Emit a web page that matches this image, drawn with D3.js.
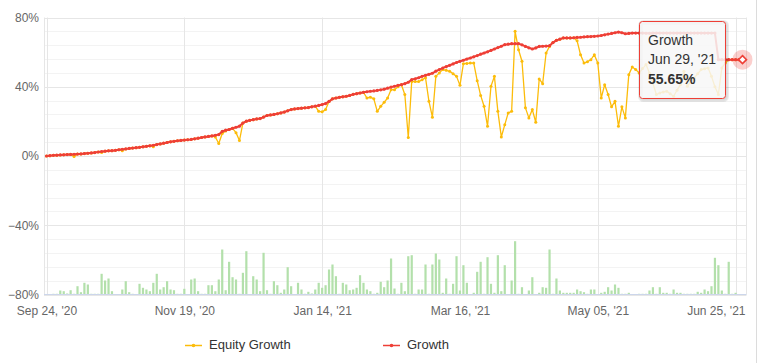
<!DOCTYPE html>
<html>
<head>
<meta charset="utf-8">
<script src="https://cdn.jsdelivr.net/npm/d3@7"></script>
<style>
  body { margin: 0; background: #fff; }
  svg { display: block; font-family: "Liberation Sans", Arial, sans-serif; }
</style>
</head>
<body>
<svg id="chart" width="759" height="363"></svg>
<script>
// growth (%) per trading day, Sep 24 '20 .. Jun 29 '21
const growth = [
  0, 0.2, 0.4, 0.5, 0.6, 0.7, 0.8, 0.9, 1.0, 1.1,
  1.2, 1.4, 1.6, 1.8, 2.0, 2.3, 2.6, 2.8, 3.0, 3.1,
  3.3, 3.6, 3.9, 4.1, 4.4, 4.6, 4.8, 5.0, 5.3, 5.6,
  5.9, 6.2, 6.6, 7.0, 7.4, 7.8, 8.2, 8.5, 8.8, 9.0,
  9.2, 9.4, 9.6, 9.9, 10.3, 10.7, 11.0, 11.3, 11.6, 12.0,
  12.4, 14.2, 14.9, 15.3, 16.0, 16.6, 17.2, 19.0, 20.1, 20.6,
  21.0, 21.4, 21.6, 22.5, 23.4, 23.7, 24.0, 24.4, 24.9, 25.4,
  26.1, 26.8, 27.2, 27.4, 27.6, 27.8, 28.0, 28.4, 28.8, 29.2,
  29.7, 30.3, 31.5, 33.0, 33.5, 33.9, 34.2, 34.5, 35.0, 35.6,
  36.0, 36.4, 36.8, 37.1, 37.4, 37.6, 37.9, 38.2, 38.6, 39.2,
  39.8, 40.3, 40.8, 41.2, 41.8, 42.6, 44.1, 44.6, 45.2, 46.0,
  46.6, 47.2, 47.8, 49.0, 49.9, 50.8, 51.6, 52.4, 53.2, 54.0,
  54.7, 55.3, 56.0, 56.6, 57.3, 58.0, 58.8, 59.5, 60.2, 61.0,
  61.8, 62.6, 63.4, 64.3, 64.6, 64.9, 64.9, 64.9, 64.2, 63.3,
  62.5, 61.8, 62.4, 63.3, 63.4, 63.5, 63.7, 65.5, 66.8, 67.5,
  68.2, 68.2, 68.2, 68.3, 68.5, 68.6, 68.8, 68.9, 69.0, 69.1,
  69.3, 69.6, 70.0, 70.4, 70.8, 71.2, 71.6, 71.2, 70.6, 70.8,
  71.0, 71.0, 71.0, 71.0, 70.9, 70.9, 71.0, 71.0, 71.0, 71.0,
  71.0, 71.0, 71.0, 71.0, 71.0, 71.0, 71.0, 71.0, 71.0, 71.0,
  71.0, 71.0, 71.0, 71.0, 71.0, 55.65, 55.65, 55.65, 55.65, 55.65,
  55.65, 55.65, 55.65
];

// equity growth (%) per trading day
const equity = [
  0, 0.2, 0.4, 0.5, 0.6, 0.7, 0.8, 0.9, -0.3, 1.1,
  1.2, 1.4, 1.6, 1.8, 2.0, 2.3, 2.0, 2.8, 3.0, 3.1,
  3.3, 3.6, 3.0, 4.1, 4.4, 4.6, 4.8, 5.0, 5.3, 5.6,
  5.9, 5.3, 6.6, 7.0, 7.4, 7.8, 8.2, 8.5, 8.8, 9.0,
  9.2, 9.4, 9.6, 9.9, 10.3, 10.7, 11.0, 11.3, 11.6, 11.0,
  7.2, 13.0, 14.5, 15.3, 16.0, 13.5, 8.9, 19.0, 20.1, 20.6,
  21.0, 21.4, 21.6, 22.5, 23.4, 23.7, 24.0, 24.4, 24.9, 25.4,
  26.1, 26.8, 27.2, 27.4, 27.6, 27.8, 28.0, 28.4, 28.8, 25.8,
  25.5, 26.8, 31.5, 33.0, 33.5, 33.9, 34.2, 34.5, 35.0, 35.6,
  36.0, 36.4, 36.8, 33.5, 34.0, 33.0, 25.8, 28.7, 31.0, 33.5,
  38.3, 38.3, 40.0, 41.2, 35.5, 10.7, 43.1, 43.0, 43.0, 44.0,
  45.2, 31.6, 22.4, 46.0, 48.0, 49.9, 49.5, 48.9, 47.5, 46.0,
  40.8, 53.3, 53.5, 53.7, 53.7, 43.5, 35.0, 28.7, 17.2, 40.3,
  46.0, 25.8, 11.0, 18.0, 24.9, 25.8, 72.0, 61.4, 54.7, 27.8,
  22.0, 26.8, 19.5, 44.5, 41.8, 59.5, 63.3, 65.6, 66.8, 67.5,
  68.2, 68.2, 68.2, 68.3, 66.5, 58.5, 53.7, 54.5, 55.6, 58.5,
  53.7, 33.5, 41.2, 35.5, 28.4, 31.6, 17.2, 28.4, 22.0, 47.0,
  51.4, 50.0, 48.0, 50.5, 52.8, 48.0, 42.0, 35.5, 36.4, 37.0,
  37.4, 36.0, 34.5, 38.0, 41.2, 48.9, 40.3, 43.0, 45.1, 47.5,
  49.9, 50.4, 50.9, 46.0, 40.0, 35.5, 50.9, 53.7, 55.65, 55.65,
  55.65, 55.65, 55.65
];

// daily volume columns (hidden axis)
const volume = [
  0, 0, 0.7, 0.7, 4, 3.3, 1, 4.3, 0.7, 8.3,
  2.3, 11.7, 10, 0.7, 0.7, 0.7, 20.7, 14, 16, 3.3,
  0, 0, 5, 13.3, 2.3, 0.7, 0, 10.7, 6.7, 5,
  3.3, 11.7, 20.7, 5, 7.3, 13.3, 5, 4.3, 0.7, 0.7,
  5.7, 0, 15, 16, 3.3, 0.7, 0.7, 9.3, 9.3, 3.3,
  15, 45, 4.3, 32.7, 17.3, 15, 0.7, 21.7, 43.3, 0,
  18.3, 15, 3.3, 41.7, 4.3, 0.7, 13.3, 9.3, 1.7, 5,
  27.3, 8.3, 0, 11.7, 5, 0.7, 2.7, 1, 5, 11.7,
  6.7, 9.3, 25, 30, 18.3, 0.7, 11.7, 10, 4.3, 5,
  6.7, 19.3, 11.7, 5, 3.3, 0.7, 1.7, 12.7,
  7.3, 14, 36, 6, 0.7, 11.7, 3.3, 38.3, 39.3, 0.7,
  5, 5, 30, 0.7, 30, 41, 35, 1.7, 16, 0.7,
  10.7, 38.3, 4, 29.3, 11.7, 0, 1.7, 22.7, 32.7, 0.7,
  37.3, 10.7, 1.7, 39.3, 3.3, 29.3, 0, 14, 53.3, 0.7,
  7.3, 0, 4, 17.3, 0, 1.7, 7.3, 6.7, 45, 0.7,
  16, 4, 1.7, 1.7, 1.7, 1.7, 5, 3.3, 2.3, 0.7,
  5, 5, 0, 1.7, 2.7, 7.3, 4, 10, 6.7, 0.7,
  0.7, 1.7, 0, 0, 0.7, 0.7, 0.7, 4, 7.3, 0.7,
  7.3, 1.7, 1.7, 0.7, 5, 1.7, 1.7, 0.7, 0.7, 0.7,
  0.7, 2.7, 1.7, 5, 3.3, 8.3, 36.7, 29.3, 4, 0.7,
  32.7, 0.7, 1.7, 0, 0
];

const tickIndex = [0, 40, 80, 120, 160, 200];
const tickLabels = ["Sep 24, '20", "Nov 19, '20", "Jan 14, '21", "Mar 16, '21", "May 05, '21", "Jun 25, '21"];
const yTicks = [-80, -40, 0, 40, 80];
const seriesNames = ["Equity Growth", "Growth"];
const seriesColors = ["#fcbc0a", "#ee3f36"];
const hoverDate = "Jun 29, '21";

const W = 759, H = 363;
const plotLeft = 44, plotRight = 746.5, plotTop = 17.5, plotBottom = 294.5;

const svg = d3.select("#chart");

const x = d3.scaleLinear().domain([0, growth.length - 1]).range([46.5, 742.5]);
const y = d3.scaleLinear().domain([-80, 80]).range([plotBottom, plotTop]);
const yVol = d3.scaleLinear().domain([0, 60]).range([plotBottom, plotBottom - 60]);

// grid
const grid = svg.append("g").attr("class", "grid");
grid.selectAll("line.minor")
  .data(d3.range(-80, 81, 8).filter(v => yTicks.indexOf(v) === -1))
  .join("line")
    .attr("class", "minor")
    .attr("x1", plotLeft).attr("x2", plotRight)
    .attr("y1", d => Math.round(y(d)) + 0.5).attr("y2", d => Math.round(y(d)) + 0.5)
    .attr("stroke", "#f3f3f3");
grid.selectAll("line.major")
  .data(yTicks)
  .join("line")
    .attr("class", "major")
    .attr("x1", plotLeft).attr("x2", plotRight)
    .attr("y1", d => Math.round(y(d)) + 0.5).attr("y2", d => Math.round(y(d)) + 0.5)
    .attr("stroke", "#e6e6e6");
grid.selectAll("line.vert")
  .data(tickIndex)
  .join("line")
    .attr("class", "vert")
    .attr("x1", d => Math.round(x(d)) + 0.5).attr("x2", d => Math.round(x(d)) + 0.5)
    .attr("y1", plotTop).attr("y2", plotBottom)
    .attr("stroke", "#e6e6e6");
// plot borders left / right
grid.selectAll("line.edge")
  .data([plotLeft + 0.5, plotRight])
  .join("line")
    .attr("class", "edge")
    .attr("x1", d => d).attr("x2", d => d)
    .attr("y1", plotTop).attr("y2", plotBottom)
    .attr("stroke", "#e6e6e6");

// volume columns
svg.append("g")
  .selectAll("rect")
  .data(volume)
  .join("rect")
    .attr("x", (d, i) => x(i) - 1.1)
    .attr("width", 2.2)
    .attr("y", d => yVol(d))
    .attr("height", d => plotBottom - yVol(d))
    .attr("fill", "#b3e0ab");

// x axis
const xAxis = svg.append("g")
  .attr("transform", "translate(0," + plotBottom + ")")
  .call(d3.axisBottom(x).tickValues(tickIndex)
    .tickFormat((d, i) => tickLabels[i]).tickSize(0).tickPadding(11.5));
xAxis.select(".domain").attr("stroke", "#ccd6eb").attr("d", "M" + plotLeft + ",0H" + plotRight);
xAxis.selectAll("text")
  .attr("fill", "#666").style("font-size", "12px").style("font-family", "Liberation Sans, Arial, sans-serif")
  .each(function(d) { // keep last label inside the chart
    const w = this.getComputedTextLength();
    if (x(d) + w / 2 > plotRight - 1) {
      d3.select(this).attr("text-anchor", "end").attr("x", plotRight - 1.5 - x(d));
    }
  });

// y axis
const yAxis = svg.append("g")
  .attr("transform", "translate(" + plotLeft + ",0)")
  .call(d3.axisLeft(y).tickValues(yTicks)
    .tickFormat(d => (d < 0 ? "\u2212" : "") + Math.abs(d) + "%").tickSize(0).tickPadding(5));
yAxis.select(".domain").remove();
yAxis.selectAll("text")
  .attr("fill", "#666").style("font-size", "12px").style("font-family", "Liberation Sans, Arial, sans-serif");

// lines
const line = d3.line().x((d, i) => x(i)).y(d => y(d));

svg.append("path")
  .datum(equity)
  .attr("d", line)
  .attr("fill", "none")
  .attr("stroke", seriesColors[0])
  .attr("stroke-width", 1.3)
  .attr("stroke-linejoin", "round");
svg.append("g")
  .selectAll("circle")
  .data(equity)
  .join("circle")
    .attr("cx", (d, i) => x(i)).attr("cy", d => y(d))
    .attr("r", 1.5).attr("fill", seriesColors[0]);

svg.append("path")
  .datum(growth)
  .attr("d", line)
  .attr("fill", "none")
  .attr("stroke", seriesColors[1])
  .attr("stroke-width", 2)
  .attr("stroke-linejoin", "round");
svg.append("g")
  .selectAll("circle")
  .data(growth)
  .join("circle")
    .attr("cx", (d, i) => x(i)).attr("cy", d => y(d))
    .attr("r", 1.6).attr("fill", seriesColors[1]);

// hovered point
const last = growth.length - 1;
const hx = x(last), hy = y(growth[last]);
svg.append("circle")
  .attr("cx", hx).attr("cy", hy).attr("r", 10)
  .attr("fill", seriesColors[1]).attr("fill-opacity", 0.25);
svg.append("path")
  .attr("d", "M" + hx + "," + (hy - 4) + "L" + (hx + 4) + "," + hy + "L" + hx + "," + (hy + 4) + "L" + (hx - 4) + "," + hy + "Z")
  .attr("fill", "#fff").attr("stroke", seriesColors[1]).attr("stroke-width", 1.6);

// tooltip
const tip = svg.append("g").attr("transform", "translate(639.5,21.5)");
[3, 2, 1].forEach(function(s) { // soft shadow
  tip.append("rect")
    .attr("x", 1).attr("y", 1).attr("width", 86).attr("height", 77).attr("rx", 3)
    .attr("fill", "none").attr("stroke", "#000").attr("stroke-opacity", 0.025 * s)
    .attr("stroke-width", 2 * s - 1);
});
tip.append("rect")
  .attr("width", 86).attr("height", 77).attr("rx", 3)
  .attr("fill", "rgba(247,247,247,0.85)")
  .attr("stroke", seriesColors[1]).attr("stroke-width", 1);
tip.append("text").attr("x", 8.5).attr("y", 23.5)
  .attr("fill", "#333").style("font-size", "14px").text(seriesNames[1]);
tip.append("text").attr("x", 8.5).attr("y", 42.5)
  .attr("fill", "#333").style("font-size", "14px").text(hoverDate);
tip.append("text").attr("x", 8.5).attr("y", 62.5)
  .attr("fill", "#333").style("font-size", "14px").style("font-weight", "bold")
  .text(d3.format(".2f")(growth[last]) + "%");

// legend
const legendX = [185, 383];
const legend = svg.append("g").selectAll("g")
  .data(seriesNames)
  .join("g")
    .attr("transform", (d, i) => "translate(" + legendX[i] + ",345.5)");
legend.append("line")
  .attr("x1", 0).attr("x2", 17)
  .attr("stroke", (d, i) => seriesColors[i]).attr("stroke-width", 1.5);
legend.append("circle")
  .attr("cx", 8.5).attr("r", 1.8)
  .attr("fill", (d, i) => seriesColors[i]);
legend.append("text")
  .attr("x", 24).attr("y", 3.8)
  .attr("fill", "#333").style("font-size", "13px")
  .text(d => d);

// right frame edge
svg.append("line")
  .attr("x1", 756.5).attr("x2", 756.5).attr("y1", 0).attr("y2", H)
  .attr("stroke", "#dcdcdc");
</script>
</body>
</html>
